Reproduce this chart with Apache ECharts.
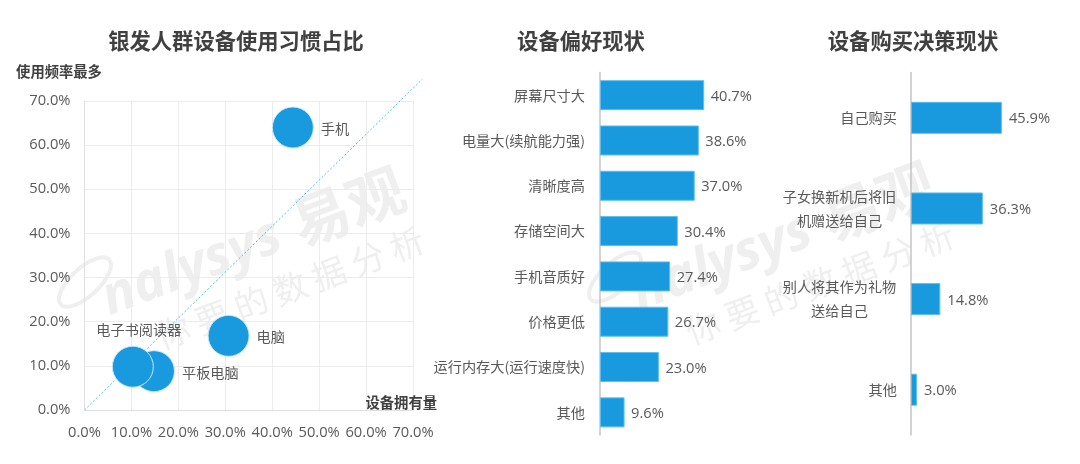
<!DOCTYPE html>
<html>
<head>
<meta charset="utf-8">
<style>html,body{margin:0;padding:0;background:#fff}#chart{width:1080px;height:464px}</style>
<script src="https://cdn.jsdelivr.net/npm/echarts@6/dist/echarts.min.js"></script>
</head>
<body>
<div id="chart"></div>
<script>
const devices = ['手机', '电脑', '平板电脑', '电子书阅读器'];
const ownership = [44.4, 30.7, 14.8, 10.3];
const frequency = [64.0, 16.8, 8.8, 9.8];
const refLine = [[0, 0], [72, 75]];

const prefNames = ['屏幕尺寸大', '电量大(续航能力强)', '清晰度高', '存储空间大', '手机音质好', '价格更低', '运行内存大(运行速度快)', '其他'];
const prefValues = [40.7, 38.6, 37.0, 30.4, 27.4, 26.7, 23.0, 9.6];

const buyNames = ['自己购买', '子女换新机后将旧\n机赠送给自己', '别人将其作为礼物\n送给自己', '其他'];
const buyValues = [45.9, 36.3, 14.8, 3.0];

const FONT = '"Open Sans","Noto Sans CJK SC",sans-serif';
const CJK = '"Noto Sans CJK SC",sans-serif';
const BLUE = '#1a9ade';
const MARK = '#efefef';
const pct = (v) => v.toFixed(1) + '%';

// 水印，两处一样，只是平移
function watermark(dx, dy) {
    const base = { type: 'text', z: 0, silent: true, rotation: 0.36 };
    return [
        { type: 'ellipse', z: 0, silent: true, x: 85 + dx, y: 282 + dy, rotation: 0.75,
          shape: { cx: 0, cy: 0, rx: 33, ry: 14 }, style: { fill: 'none', stroke: MARK, lineWidth: 4 } },
        { ...base, x: 192 + dx, y: 268 + dy, style: { text: 'nalysys', fill: MARK, align: 'center', verticalAlign: 'middle',
          font: 'italic bold 54px "Open Sans",sans-serif' } },
        { ...base, x: 348 + dx, y: 206 + dy, style: { text: '易观', fill: MARK, align: 'center', verticalAlign: 'middle',
          font: 'bold 58px "Noto Sans CJK SC",sans-serif' } },
        { ...base, x: 290 + dx, y: 288 + dy, style: { text: '你 要 的 数 据 分 析', fill: MARK, align: 'center', verticalAlign: 'middle',
          font: '34px "Noto Sans CJK SC",sans-serif' } }
    ];
}

function titleText(text, x) {
    return { text, left: x, top: 41, padding: 0, textAlign: 'center', textVerticalAlign: 'middle',
        textStyle: { fontFamily: CJK, fontSize: 21.3, fontWeight: 'bold', color: '#404040' } };
}

function barSeries(idx, values, barWidth, distance) {
    return {
        type: 'bar', xAxisIndex: idx, yAxisIndex: idx, data: values, barWidth,
        itemStyle: { color: BLUE, borderColor: '#5fbdee', borderWidth: 1 },
        label: { show: true, position: 'right', distance, offset: [0, 1.5], fontFamily: FONT, fontSize: 14.7, color: '#595959',
            formatter: (p) => pct(p.value) }
    };
}

function catAxis(idx, names, margin) {
    return {
        type: 'category', gridIndex: idx, data: names, inverse: true,
        axisLine: { lineStyle: { color: '#c4c4c4', width: 1.5 } },
        axisTick: { show: false },
        axisLabel: {
            margin, fontFamily: CJK, fontSize: 14.2, color: '#595959', interval: 0,
            formatter: (v) => v.includes('\n') ? v.split('\n').map((s) => '{c|' + s + '}').join('\n') : v,
            rich: { c: { width: 115, align: 'center', lineHeight: 24, fontFamily: CJK, fontSize: 14.2, color: '#595959' } }
        }
    };
}

const valAxisStyle = {
    type: 'value', min: 0, max: 70, interval: 10,
    axisLine: { show: true, lineStyle: { color: '#e0e0e0' } },
    axisTick: { show: false },
    splitLine: { show: true, lineStyle: { color: '#ececec' } }
};
const axisNameStyle = { fontFamily: CJK, fontSize: 14.3, fontWeight: 'bold', color: '#404040' };
const labelPlace = {
    '电子书阅读器': { position: 'top', distance: 9, offset: [6, 0] },
    '平板电脑': { position: 'right', distance: 7, offset: [0, 1] }
};

const option = {
    animation: false,
    backgroundColor: '#fff',
    title: [titleText('银发人群设备使用习惯占比', 236), titleText('设备偏好现状', 581), titleText('设备购买决策现状', 913)],
    graphic: [...watermark(0, 0), ...watermark(530, -5)],
    grid: [
        { left: 84.5, top: 101, width: 328.5, height: 309 },
        { left: 600, top: 72.5, width: 128, height: 362.5 },
        { left: 911, top: 72.5, width: 99, height: 362.5 },
        // 对角虚线超出坐标范围，单独放一个隐藏的网格
        { left: 84.5, top: 79, width: 338, height: 331 }
    ],
    xAxis: [
        { ...valAxisStyle, gridIndex: 0,
          name: '设备拥有量', nameLocation: 'end', nameGap: 24,
          nameTextStyle: { ...axisNameStyle, align: 'right', verticalAlign: 'bottom' },
          axisLabel: { margin: 15, fontFamily: FONT, fontSize: 14.7, color: '#595959', formatter: pct } },
        { type: 'value', gridIndex: 1, min: 0, max: 50, show: false },
        { type: 'value', gridIndex: 2, min: 0, max: 50, show: false },
        { type: 'value', gridIndex: 3, min: 0, max: 72, show: false }
    ],
    yAxis: [
        { ...valAxisStyle, gridIndex: 0,
          name: '使用频率最多', nameLocation: 'end', nameGap: 29,
          nameTextStyle: { ...axisNameStyle, align: 'center', verticalAlign: 'middle', padding: [0, 51, 0, 0] },
          axisLabel: { margin: 14, fontFamily: FONT, fontSize: 14.7, color: '#595959', formatter: pct } },
        catAxis(1, prefNames, 15),
        catAxis(2, buyNames, 14),
        { type: 'value', gridIndex: 3, min: 0, max: 75, show: false }
    ],
    series: [
        {
            type: 'line', xAxisIndex: 3, yAxisIndex: 3, data: refLine, symbol: 'none', z: 1,
            lineStyle: { color: '#5bbde9', width: 1, type: [2, 2] }
        },
        {
            type: 'scatter', xAxisIndex: 0, yAxisIndex: 0, symbolSize: 41, z: 3,
            data: devices.map((name, i) => ({
                name, value: [ownership[i], frequency[i]],
                label: labelPlace[name] || { position: 'right', distance: 7, offset: [0, 1] }
            })),
            itemStyle: { color: BLUE, borderColor: '#c5e6f8', borderWidth: 1, opacity: 1 },
            label: { show: true, fontFamily: CJK, fontSize: 14.2, color: '#595959', formatter: (p) => p.name }
        },
        barSeries(1, prefValues, 30, 6.5),
        barSeries(2, buyValues, 32, 7)
    ]
};

const chart = echarts.init(document.getElementById('chart'));
chart.setOption(option);
</script>
</body>
</html>
